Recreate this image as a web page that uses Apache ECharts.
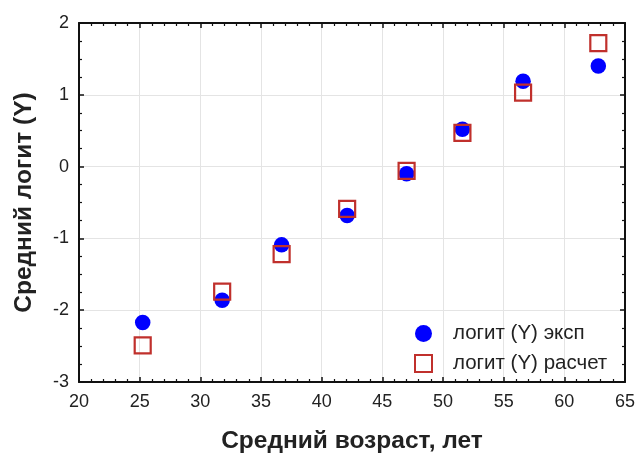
<!DOCTYPE html>
<html>
<head>
<meta charset="utf-8">
<script src="https://cdn.jsdelivr.net/npm/echarts@6/dist/echarts.min.js"></script>
<style>
  html, body { margin: 0; padding: 0; background: #ffffff; }
  #chart { width: 643px; height: 459px; }
</style>
</head>
<body>
<div id="chart"></div>
<script>
// Mean age (years) of each group
const ages = [25.25, 31.8, 36.7, 42.1, 47.0, 51.6, 56.6, 62.8];
// Experimental mean logit(Y)
const logitExp = [-2.17, -1.86, -1.09, -0.68, -0.10, 0.52, 1.19, 1.40];
// Calculated mean logit(Y)
const logitCalc = [-2.49, -1.74, -1.22, -0.59, -0.06, 0.47, 1.03, 1.72];

const seriesNames = ['логит (Y) эксп', 'логит (Y) расчет'];
const xTitle = 'Средний возраст, лет';
const yTitle = 'Средний логит (Y)';

const font = '"Liberation Sans", Arial, sans-serif';

const chart = echarts.init(document.getElementById('chart'), null, { renderer: 'canvas' });

const axisLine = { show: true, onZero: false, lineStyle: { color: '#111', width: 2 } };
const tick = { show: true, inside: true, length: 5, lineStyle: { color: '#111', width: 1.5 } };
const minorTick = (n) => ({ show: true, splitNumber: n, length: 3, lineStyle: { color: '#111', width: 1.2 } });

chart.setOption({
  animation: false,
  backgroundColor: '#ffffff',
  grid: { left: 79, top: 23, right: 18, bottom: 76, containLabel: false },
  legend: {
    orient: 'vertical',
    left: 409,
    top: 318,
    itemWidth: 17,
    itemHeight: 17,
    itemGap: 9,
    textStyle: { fontFamily: font, fontSize: 20.5, color: '#222', padding: [0, 0, 0, 16] },
    data: [
      { name: seriesNames[0], icon: 'circle' },
      { name: seriesNames[1], icon: 'rect' }
    ]
  },
  xAxis: [
    {
      type: 'value', position: 'bottom', min: 20, max: 65, interval: 5,
      name: xTitle, nameLocation: 'middle', nameGap: 47,
      nameTextStyle: { fontFamily: font, fontSize: 24.5, fontWeight: 'bold', color: '#222' },
      axisLine, axisTick: tick, minorTick: minorTick(5),
      axisLabel: { fontFamily: font, fontSize: 18, color: '#222', margin: 11 },
      splitLine: { show: true, lineStyle: { color: '#e4e4e4', width: 1 } }
    },
    {
      type: 'value', position: 'top', min: 20, max: 65, interval: 5,
      axisLine, axisTick: tick, minorTick: minorTick(5),
      axisLabel: { show: false }, splitLine: { show: false }
    }
  ],
  yAxis: [
    {
      type: 'value', position: 'left', min: -3, max: 2, interval: 1,
      name: yTitle, nameLocation: 'middle', nameGap: 42,
      nameTextStyle: { fontFamily: font, fontSize: 24.5, fontWeight: 'bold', color: '#222' },
      axisLine, axisTick: tick, minorTick: minorTick(4),
      axisLabel: { fontFamily: font, fontSize: 18, color: '#222', margin: 10 },
      splitLine: { show: true, lineStyle: { color: '#e4e4e4', width: 1 } }
    },
    {
      type: 'value', position: 'right', min: -3, max: 2, interval: 1,
      axisLine, axisTick: tick, minorTick: minorTick(4),
      axisLabel: { show: false }, splitLine: { show: false }
    }
  ],
  series: [
    {
      name: seriesNames[0],
      type: 'scatter',
      symbol: 'circle',
      symbolSize: 15.5,
      itemStyle: { color: '#0000ff', opacity: 1 },
      data: ages.map((a, i) => [a, logitExp[i]]),
      z: 2
    },
    {
      name: seriesNames[1],
      type: 'scatter',
      symbol: 'rect',
      symbolSize: 16,
      itemStyle: { color: 'rgba(255,255,255,0)', borderColor: '#c0302c', borderWidth: 2.2, opacity: 1 },
      data: ages.map((a, i) => [a, logitCalc[i]]),
      z: 3
    }
  ]
});
</script>
</body>
</html>
